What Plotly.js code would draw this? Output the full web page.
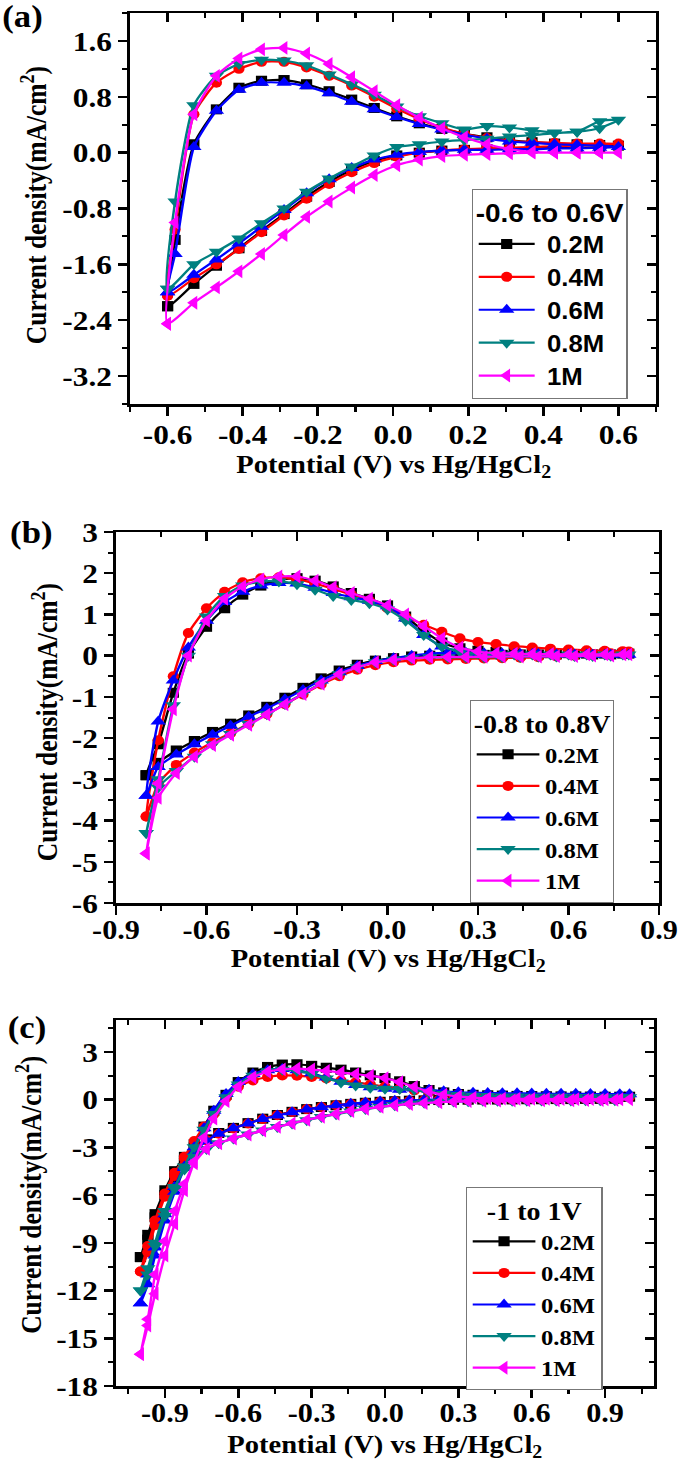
<!DOCTYPE html>
<html>
<head>
<meta charset="utf-8">
<script src="https://cdn.plot.ly/plotly-3.0.1.min.js"></script>
<style>
html,body{margin:0;padding:0;background:#fff;overflow:hidden;}
#chart{width:612px;height:1468px;transform:scaleX(1.11928);transform-origin:0 0;}
</style>
</head>
<body>
<div id="chart"></div>
<script>
// ---------- DATA ----------
const seriesNames = ['0.2M', '0.4M', '0.6M', '0.8M', '1M'];
const legendTitles = ['-0.6 to 0.6V', '-0.8 to 0.8V', '-1 to 1V'];
const panelLabels = ['(a)', '(b)', '(c)'];
const xTitle = 'Potential (V) vs Hg/HgCl<sub>2</sub>';
const yTitle = 'Current density(mA/cm<sup>2</sup>)';

// Panel (a): potential sweep -0.6 -> 0.6 -> -0.6 V
const potA = [-0.6,-0.58,-0.53,-0.47,-0.41,-0.35,-0.29,-0.23,-0.17,-0.11,-0.05,0.01,0.07,0.13,0.19,0.25,0.31,0.37,0.43,0.49,0.55,0.6,
  0.55,0.49,0.43,0.37,0.31,0.25,0.19,0.13,0.07,0.01,-0.05,-0.11,-0.17,-0.23,-0.29,-0.35,-0.41,-0.47,-0.53,-0.6];
const a02 = [-2.2,-1.25,0.12,0.62,0.93,1.03,1.04,0.98,0.88,0.76,0.64,0.52,0.42,0.34,0.27,0.22,0.18,0.15,0.13,0.12,0.11,0.1,
  0.08,0.07,0.07,0.06,0.05,0.05,0.04,0.03,0.0,-0.04,-0.12,-0.25,-0.42,-0.63,-0.88,-1.12,-1.37,-1.62,-1.88,-2.2];
const a04 = [-2.05,-1.1,0.55,1.0,1.2,1.3,1.3,1.22,1.1,0.96,0.8,0.63,0.48,0.36,0.27,0.21,0.17,0.15,0.14,0.13,0.13,0.13,
  0.11,0.1,0.09,0.08,0.07,0.06,0.05,0.03,0.0,-0.06,-0.15,-0.28,-0.45,-0.66,-0.9,-1.14,-1.38,-1.6,-1.8,-2.05];
const a06 = [-2.0,-1.45,0.08,0.6,0.9,1.0,1.0,0.95,0.85,0.73,0.62,0.51,0.41,0.33,0.26,0.2,0.16,0.14,0.12,0.11,0.1,0.08,
  0.07,0.06,0.06,0.05,0.05,0.04,0.04,0.03,0.01,-0.03,-0.1,-0.22,-0.38,-0.58,-0.82,-1.06,-1.3,-1.53,-1.75,-2.0];
const a08 = [-1.95,-0.7,0.68,1.1,1.27,1.33,1.32,1.25,1.12,0.98,0.83,0.66,0.52,0.42,0.33,0.38,0.36,0.32,0.29,0.3,0.45,0.47,
  0.35,0.3,0.28,0.25,0.23,0.2,0.18,0.16,0.12,0.08,-0.04,-0.2,-0.37,-0.56,-0.8,-1.01,-1.23,-1.42,-1.6,-1.95];
const a10 = [-2.45,-1.0,0.55,1.1,1.35,1.48,1.5,1.42,1.27,1.08,0.88,0.68,0.5,0.35,0.22,0.12,0.05,0.01,0.0,0.0,0.0,0.0,
  0.0,0.0,0.0,0.0,-0.01,-0.02,-0.03,-0.05,-0.1,-0.18,-0.32,-0.5,-0.7,-0.92,-1.18,-1.45,-1.7,-1.93,-2.15,-2.45];

// Panel (b): potential sweep -0.8 -> 0.8 -> -0.8 V
const potB = [-0.8,-0.76,-0.71,-0.66,-0.6,-0.54,-0.48,-0.42,-0.36,-0.3,-0.24,-0.18,-0.12,-0.06,0.0,0.06,0.12,0.18,0.24,0.3,
  0.36,0.42,0.48,0.54,0.6,0.66,0.72,0.78,0.8,
  0.74,0.68,0.62,0.56,0.5,0.44,0.38,0.32,0.26,0.2,0.14,0.08,0.02,-0.04,-0.1,-0.16,-0.22,-0.28,-0.34,-0.4,
  -0.46,-0.52,-0.58,-0.64,-0.7,-0.76,-0.8];
const b02 = [-2.9,-2.15,-0.9,0.05,0.7,1.15,1.48,1.7,1.83,1.88,1.82,1.68,1.52,1.38,1.22,0.95,0.6,0.32,0.18,0.12,
  0.09,0.08,0.07,0.06,0.06,0.05,0.05,0.05,0.05,
  0.03,0.03,0.03,0.03,0.03,0.03,0.02,0.02,0.02,0.01,0.0,-0.02,-0.06,-0.12,-0.22,-0.36,-0.55,-0.78,-1.02,-1.24,
  -1.45,-1.65,-1.85,-2.07,-2.3,-2.6,-2.9];
const b04 = [-3.9,-2.05,-0.5,0.55,1.15,1.55,1.78,1.88,1.9,1.85,1.75,1.62,1.48,1.33,1.15,0.95,0.75,0.58,0.42,0.33,
  0.28,0.23,0.2,0.17,0.15,0.13,0.12,0.11,0.1,
  0.06,0.03,0.0,-0.02,-0.04,-0.05,-0.06,-0.07,-0.08,-0.09,-0.1,-0.12,-0.16,-0.23,-0.34,-0.5,-0.7,-0.94,-1.18,-1.42,
  -1.65,-1.88,-2.1,-2.35,-2.65,-3.1,-3.9];
const b06 = [-3.4,-1.6,-0.6,0.2,0.85,1.3,1.55,1.7,1.76,1.75,1.65,1.52,1.42,1.33,1.2,0.9,0.5,0.22,0.1,0.06,
  0.05,0.04,0.04,0.03,0.03,0.03,0.02,0.02,0.02,
  0.02,0.02,0.03,0.03,0.04,0.04,0.05,0.06,0.07,0.07,0.05,0.0,-0.06,-0.13,-0.25,-0.4,-0.6,-0.83,-1.06,-1.28,
  -1.48,-1.7,-1.92,-2.15,-2.4,-2.7,-3.4];
const b08 = [-4.3,-3.0,-1.2,0.0,0.95,1.45,1.7,1.8,1.8,1.73,1.6,1.45,1.35,1.27,1.12,0.85,0.5,0.22,0.1,0.05,
  0.04,0.03,0.03,0.03,0.03,0.03,0.03,0.03,0.03,
  0.0,-0.01,-0.01,-0.02,-0.02,-0.03,-0.03,-0.04,-0.04,-0.04,-0.04,-0.06,-0.1,-0.16,-0.28,-0.45,-0.67,-0.92,-1.17,-1.42,
  -1.66,-1.9,-2.15,-2.45,-2.8,-3.2,-4.3];
const b10 = [-4.8,-3.1,-1.3,0.0,0.85,1.38,1.68,1.85,1.92,1.92,1.82,1.66,1.52,1.38,1.22,1.0,0.72,0.42,0.2,0.1,
  0.06,0.05,0.04,0.04,0.03,0.03,0.03,0.03,0.03,
  0.0,0.0,-0.01,-0.01,-0.02,-0.02,-0.02,-0.03,-0.03,-0.03,-0.04,-0.06,-0.1,-0.16,-0.28,-0.45,-0.68,-0.93,-1.18,-1.43,
  -1.68,-1.92,-2.17,-2.45,-2.85,-3.45,-4.8];

// Panel (c): potential sweep -1 -> 1 -> -1 V
const potC = [-1.0,-0.97,-0.94,-0.9,-0.86,-0.82,-0.78,-0.74,-0.7,-0.65,-0.6,-0.54,-0.48,-0.42,-0.36,-0.3,-0.24,-0.18,-0.12,-0.06,
  0.0,0.06,0.12,0.18,0.24,0.3,0.36,0.42,0.48,0.54,0.6,0.66,0.72,0.78,0.84,0.9,0.96,1.0,
  0.94,0.88,0.82,0.76,0.7,0.64,0.58,0.52,0.46,0.4,0.34,0.28,0.22,0.16,0.1,0.04,-0.02,-0.08,-0.14,-0.2,
  -0.26,-0.32,-0.38,-0.44,-0.5,-0.56,-0.62,-0.68,-0.73,-0.78,-0.82,-0.86,-0.9,-0.94,-0.97,-1.0];
const c02 = [-9.9,-8.8,-7.4,-6.0,-4.9,-3.8,-2.8,-1.7,-0.7,0.3,1.1,1.7,2.05,2.2,2.22,2.12,2.0,1.88,1.7,1.52,
  1.35,1.15,0.85,0.6,0.45,0.35,0.3,0.27,0.25,0.23,0.22,0.21,0.2,0.2,0.19,0.18,0.18,0.18,
  0.05,0.04,0.04,0.03,0.03,0.02,0.02,0.01,0.0,0.0,-0.01,-0.02,-0.03,-0.05,-0.07,-0.1,-0.14,-0.2,-0.27,-0.36,
  -0.47,-0.6,-0.77,-0.97,-1.2,-1.48,-1.78,-2.1,-2.5,-3.0,-3.6,-4.5,-5.7,-7.2,-8.5,-9.9];
const c04 = [-10.8,-9.6,-7.9,-6.1,-4.8,-3.6,-2.6,-1.7,-0.9,0.1,0.8,1.2,1.42,1.52,1.5,1.42,1.32,1.2,1.08,0.95,
  0.82,0.7,0.58,0.48,0.4,0.34,0.3,0.27,0.25,0.23,0.22,0.21,0.2,0.2,0.19,0.18,0.18,0.17,
  0.05,0.04,0.04,0.03,0.03,0.02,0.02,0.01,0.0,0.0,-0.01,-0.02,-0.03,-0.05,-0.07,-0.1,-0.14,-0.2,-0.27,-0.36,
  -0.47,-0.6,-0.78,-0.98,-1.22,-1.5,-1.82,-2.15,-2.55,-3.1,-3.7,-4.6,-5.9,-7.6,-9.2,-10.8];
const c06 = [-12.8,-11.6,-9.8,-7.6,-5.8,-4.3,-3.0,-1.8,-0.7,0.35,1.1,1.6,1.85,1.92,1.85,1.65,1.38,1.12,0.92,0.78,
  0.68,0.62,0.7,0.62,0.52,0.46,0.43,0.41,0.4,0.39,0.38,0.37,0.36,0.36,0.35,0.35,0.34,0.33,
  0.1,0.09,0.08,0.07,0.07,0.06,0.05,0.05,0.04,0.03,0.02,0.01,0.0,-0.02,-0.05,-0.08,-0.12,-0.18,-0.26,-0.36,
  -0.48,-0.62,-0.8,-1.0,-1.22,-1.5,-1.8,-2.15,-2.6,-3.3,-4.2,-5.5,-7.2,-9.3,-11.0,-12.8];
const c08 = [-12.0,-11.0,-9.2,-7.3,-5.6,-4.2,-3.0,-1.9,-0.9,0.15,0.95,1.5,1.78,1.88,1.8,1.6,1.32,1.08,0.88,0.75,
  0.68,0.66,0.6,0.45,0.35,0.28,0.24,0.22,0.2,0.19,0.18,0.17,0.17,0.16,0.16,0.15,0.15,0.15,
  -0.05,-0.05,-0.05,-0.06,-0.06,-0.06,-0.07,-0.07,-0.07,-0.08,-0.1,-0.12,-0.15,-0.2,-0.27,-0.36,-0.47,-0.6,-0.75,-0.92,
  -1.1,-1.3,-1.5,-1.72,-1.95,-2.2,-2.45,-2.75,-3.1,-3.6,-4.4,-5.5,-7.0,-9.0,-10.6,-12.0];
const c10 = [-16.0,-14.2,-12.2,-9.8,-7.8,-5.7,-3.9,-2.4,-1.2,-0.1,0.8,1.4,1.75,1.9,1.95,1.9,1.8,1.7,1.6,1.5,
  1.35,1.1,0.8,0.5,0.3,0.2,0.12,0.08,0.06,0.05,0.04,0.04,0.03,0.03,0.03,0.02,0.02,0.02,
  -0.02,-0.03,-0.03,-0.04,-0.04,-0.05,-0.05,-0.06,-0.07,-0.08,-0.1,-0.13,-0.17,-0.22,-0.28,-0.36,-0.46,-0.58,-0.72,-0.9,
  -1.08,-1.28,-1.5,-1.72,-1.95,-2.2,-2.45,-2.75,-3.1,-4.0,-5.3,-7.0,-8.9,-11.0,-13.8,-16.0];

// Tick values / labels
const xTickValsA = [-0.6,-0.4,-0.2,0,0.2,0.4,0.6];
const xTickTextA = ['-0.6','-0.4','-0.2','0.0','0.2','0.4','0.6'];
const yTickValsA = [-3.2,-2.4,-1.6,-0.8,0,0.8,1.6];
const yTickTextA = ['-3.2','-2.4','-1.6','-0.8','0.0','0.8','1.6'];
const xTickValsB = [-0.9,-0.6,-0.3,0,0.3,0.6,0.9];
const xTickTextB = ['-0.9','-0.6','-0.3','0.0','0.3','0.6','0.9'];
const yTickValsB = [-6,-5,-4,-3,-2,-1,0,1,2,3];
const yTickTextB = ['-6','-5','-4','-3','-2','-1','0','1','2','3'];
const xTickValsC = [-0.9,-0.6,-0.3,0,0.3,0.6,0.9];
const xTickTextC = ['-0.9','-0.6','-0.3','0.0','0.3','0.6','0.9'];
const yTickValsC = [-18,-15,-12,-9,-6,-3,0,3];
const yTickTextC = ['-18','-15','-12','-9','-6','-3','0','3'];

// ---------- STYLE ----------
const colors = ['#000000', '#ff0000', '#0000ff', '#008080', '#ff00ff'];
const symbols = ['square', 'circle', 'triangle-up', 'triangle-down', 'triangle-left'];
const SERIF = 'Liberation Serif, Times New Roman, serif';
const SANS = 'Liberation Sans, Arial, sans-serif';

const panels = [
  {pot: potA, ys: [a02, a04, a06, a08, a10], xa: 'x', ya: 'y', xo: 'x4', yo: 'y4', leg: 'legend'},
  {pot: potB, ys: [b02, b04, b06, b08, b10], xa: 'x2', ya: 'y2', xo: 'x5', yo: 'y5', leg: 'legend2'},
  {pot: potC, ys: [c02, c04, c06, c08, c10], xa: 'x3', ya: 'y3', xo: 'x6', yo: 'y6', leg: 'legend3'}
];

const traces = [];
panels.forEach((p, pi) => {
  p.ys.forEach((y, si) => {
    traces.push({
      type: 'scatter', mode: 'lines+markers',
      x: p.pot, y: y, name: seriesNames[si],
      xaxis: p.xa, yaxis: p.ya, legend: p.leg,
      line: {color: colors[si], width: 2.2, shape: 'spline', smoothing: 0.6},
      marker: {symbol: symbols[si], color: colors[si], size: si >= 2 ? 12 : 10, line: {width: 0}},
      hoverinfo: 'skip'
    });
  });
  traces.push({type: 'scatter', mode: 'markers', x: [null], y: [null], xaxis: p.xo, yaxis: p.yo,
    showlegend: false, hoverinfo: 'skip'});
});

function tickFont(size) { return {family: SERIF, size: size, color: '#000', weight: 'bold'}; }

function mainAxis(domain, range, tv, tt, minorDtick, anchor, isY, fsize, standoff) {
  return {
    domain: domain, range: range, anchor: anchor,
    tickmode: 'array', tickvals: tv, ticktext: tt,
    showline: true, linecolor: '#000', linewidth: 2.5, mirror: true,
    ticks: 'outside', ticklen: isY ? 8 : 9, tickwidth: 2.5, tickcolor: '#000',
    ticklabelstandoff: standoff,
    minor: {ticks: 'outside', ticklen: isY ? 4.5 : 5, tickwidth: 2, tickcolor: '#000', tick0: 0, dtick: minorDtick, showgrid: false},
    showgrid: false, zeroline: false, tickfont: tickFont(fsize), automargin: false
  };
}
function overAxis(over, anchor, side, range, tv, minorDtick, isY) {
  return {
    overlaying: over, anchor: anchor, side: side, range: range,
    tickmode: 'array', tickvals: tv,
    showline: false, ticks: 'inside', ticklen: isY ? 8 : 9, tickwidth: 2.5, tickcolor: '#000',
    minor: {ticks: 'inside', ticklen: isY ? 4.5 : 5, tickwidth: 2, tickcolor: '#000', tick0: 0, dtick: minorDtick, showgrid: false},
    showgrid: false, zeroline: false, showticklabels: false
  };
}

// final picture is 685 px wide; the figure is drawn 612 px wide and stretched horizontally
const H = 1468, W = 612, WF = 685;
const px = v => v / WF, py = v => 1 - v / H;

const rA = {x: [-0.7, 0.7], y: [-3.6, 2.0]};
const rB = {x: [-0.9, 0.9], y: [-6, 3]};
const rC = {x: [-1.1, 1.1], y: [-18, 5]};
const dA = {x: [px(130), px(656)], y: [py(404), py(13)]};
const dB = {x: [px(116), px(659)], y: [py(903), py(532)]};
const dC = {x: [px(116), px(654)], y: [py(1386), py(1020)]};

function legendCfg(x, y, title, fam, size, tsize) {
  return {
    x: x, y: y, xanchor: 'left', yanchor: 'top',
    bgcolor: '#fff', bordercolor: '#777', borderwidth: 1,
    font: {family: fam, size: size, color: '#000', weight: 'bold'},
    title: {text: title, side: 'top center', font: {family: fam, size: tsize, color: '#000', weight: 'bold'}},
    itemsizing: 'trace', tracegroupgap: 0, itemwidth: 56
  };
}

function ann(text, x, y, size, angle) {
  return {text: text, x: x, y: y, xref: 'paper', yref: 'paper', xanchor: 'center', yanchor: 'middle',
    showarrow: false, textangle: angle || 0, font: {family: SERIF, size: size, color: '#000', weight: 'bold'}};
}

const layout = {
  width: W, height: H,
  margin: {l: 0, r: 0, t: 0, b: 0},
  paper_bgcolor: '#fff', plot_bgcolor: '#fff',
  showlegend: true,
  xaxis: mainAxis(dA.x, rA.x, xTickValsA, xTickTextA, 0.1, 'y', false, 28, -5),
  yaxis: mainAxis(dA.y, rA.y, yTickValsA, yTickTextA, 0.4, 'x', true, 28, 0),
  xaxis2: mainAxis(dB.x, rB.x, xTickValsB, xTickTextB, 0.15, 'y2', false, 27, -8),
  yaxis2: mainAxis(dB.y, rB.y, yTickValsB, yTickTextB, 0.5, 'x2', true, 28, 0),
  xaxis3: mainAxis(dC.x, rC.x, xTickValsC, xTickTextC, 0.15, 'y3', false, 27, -8),
  yaxis3: mainAxis(dC.y, rC.y, yTickValsC, yTickTextC, 1.5, 'x3', true, 28, 0),
  xaxis4: overAxis('x', 'y', 'top', rA.x, xTickValsA, 0.1, false),
  yaxis4: overAxis('y', 'x', 'right', rA.y, yTickValsA, 0.4, true),
  xaxis5: overAxis('x2', 'y2', 'top', rB.x, xTickValsB, 0.15, false),
  yaxis5: overAxis('y2', 'x2', 'right', rB.y, yTickValsB, 0.5, true),
  xaxis6: overAxis('x3', 'y3', 'top', rC.x, xTickValsC, 0.15, false),
  yaxis6: overAxis('y3', 'x3', 'right', rC.y, yTickValsC, 1.5, true),
  legend: legendCfg(px(472), py(189), legendTitles[0], SANS, 23, 25),
  legend2: legendCfg(px(470), py(700), legendTitles[1], SERIF, 22, 25),
  legend3: legendCfg(px(466), py(1187), legendTitles[2], SERIF, 22, 25),
  annotations: [
    ann(panelLabels[0], px(22), py(16), 31),
    ann(panelLabels[1], px(31), py(532), 31),
    ann(panelLabels[2], px(27), py(1027), 31),
    ann(xTitle, px(394), py(466), 25.5),
    ann(xTitle, px(388), py(960), 25.5),
    ann(xTitle, px(385), py(1446), 25.5),
    ann(yTitle, px(35), py(205), 25.5, -90),
    ann(yTitle, px(45), py(722), 25.5, -90),
    ann(yTitle, px(29), py(1195), 25.5, -90)
  ]
};

Plotly.newPlot('chart', traces, layout, {displayModeBar: false, staticPlot: true}).then(function (gd) {
  // longer legend sample lines, marker centred on them (as in the original figure)
  gd.querySelectorAll('.legend .legendlines path').forEach(function (p) { p.setAttribute('d', 'M5,0h50'); });
  gd.querySelectorAll('.legend .legendpoints path').forEach(function (p) { p.setAttribute('transform', 'translate(30,0)'); });
});
</script>
</body>
</html>
